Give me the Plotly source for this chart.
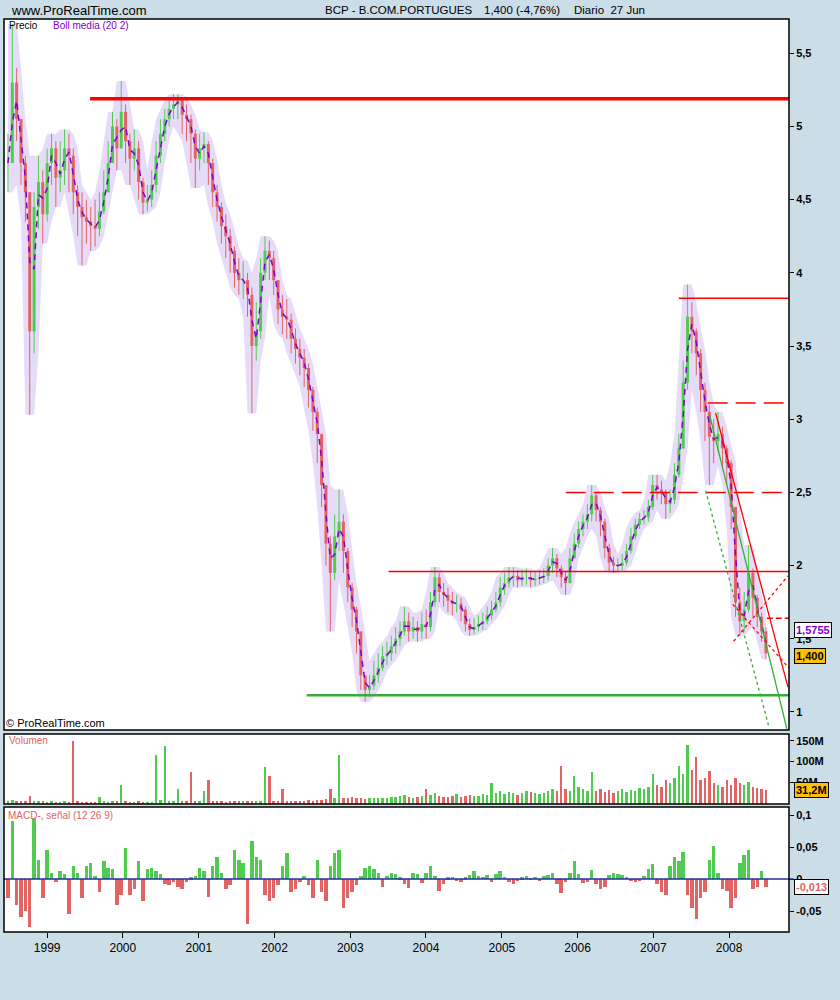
import numpy as np
import pandas as pd
import plotly.graph_objects as go

# ---------------- data (sampled every 3 weeks) ----------------
dates = pd.date_range("1998-06-26", "2008-06-27", freq="21D")

close = [4.75, 5.30, 5.05, 4.75, 4.55, 3.60, 4.45, 4.62, 4.40, 4.75,
         4.85, 4.65, 4.70, 4.85, 4.80, 4.55, 4.45, 4.38, 4.35, 4.32,
         4.30, 4.42, 4.55, 4.75, 5.00, 4.85, 5.10, 4.90, 4.78, 4.85,
         4.62, 4.48, 4.50, 4.60, 4.80, 4.95, 5.05, 5.12, 5.15, 5.18,
         5.08, 5.05, 4.95, 4.78, 4.85, 4.88, 4.75, 4.55, 4.45, 4.32,
         4.25, 4.15, 4.00, 3.95, 3.95, 3.85, 3.50, 3.60, 4.00, 4.15,
         4.10, 3.95, 3.75, 3.70, 3.68, 3.55, 3.48, 3.42, 3.35, 3.20,
         3.05, 2.90, 2.55, 2.15, 1.95, 2.20, 2.30, 2.10, 1.85, 1.70,
         1.55, 1.25, 1.15, 1.18, 1.25, 1.30, 1.38, 1.40, 1.45, 1.50,
         1.55, 1.62, 1.55, 1.58, 1.55, 1.60, 1.58, 1.75, 1.92, 1.82,
         1.80, 1.76, 1.74, 1.74, 1.70, 1.60, 1.56, 1.58, 1.60, 1.62,
         1.66, 1.70, 1.75, 1.85, 1.88, 1.92, 1.93, 1.90, 1.92, 1.92,
         1.90, 1.91, 1.92, 1.93, 2.00, 2.05, 1.98, 1.92, 1.88, 2.05,
         2.15, 2.25, 2.30, 2.35, 2.48, 2.38, 2.30, 2.12, 2.02, 2.00,
         2.00, 2.02, 2.10, 2.20, 2.28, 2.32, 2.33, 2.40, 2.55, 2.52,
         2.50, 2.42, 2.45, 2.62, 2.80, 3.25, 3.70, 3.60, 3.45, 3.20,
         3.05, 2.88, 2.85, 2.90, 2.80, 2.70, 2.40, 1.75, 1.62, 1.70,
         1.95, 1.78, 1.65, 1.55, 1.40]

high = [4.95, 5.70, 5.40, 5.05, 4.80, 4.55, 4.55, 4.80, 4.70, 4.85,
        4.95, 4.90, 4.90, 4.98, 4.95, 4.85, 4.60, 4.55, 4.50, 4.45,
        4.50, 4.55, 4.70, 4.90, 5.10, 5.05, 5.31, 5.15, 4.95, 4.98,
        4.90, 4.65, 4.60, 4.70, 4.90, 5.05, 5.12, 5.18, 5.22, 5.22,
        5.20, 5.15, 5.08, 4.98, 4.95, 4.96, 4.90, 4.78, 4.60, 4.48,
        4.40, 4.30, 4.18, 4.10, 4.08, 4.00, 3.90, 3.80, 4.10, 4.25,
        4.22, 4.15, 3.95, 3.85, 3.82, 3.72, 3.62, 3.55, 3.48, 3.38,
        3.22, 3.08, 2.90, 2.55, 2.20, 2.35, 2.52, 2.35, 2.12, 1.88,
        1.72, 1.55, 1.25, 1.25, 1.35, 1.40, 1.45, 1.48, 1.52, 1.58,
        1.62, 1.72, 1.68, 1.65, 1.62, 1.68, 1.70, 1.82, 1.99, 1.95,
        1.88, 1.85, 1.82, 1.80, 1.78, 1.72, 1.64, 1.64, 1.66, 1.68,
        1.72, 1.76, 1.82, 1.92, 1.95, 1.99, 1.99, 1.97, 1.97, 1.98,
        1.96, 1.96, 1.97, 1.98, 2.05, 2.12, 2.08, 2.00, 1.96, 2.12,
        2.22, 2.30, 2.35, 2.42, 2.55, 2.50, 2.40, 2.32, 2.15, 2.06,
        2.05, 2.08, 2.15, 2.26, 2.32, 2.36, 2.38, 2.45, 2.62, 2.62,
        2.58, 2.52, 2.52, 2.70, 2.90, 3.40, 3.92, 3.80, 3.62, 3.48,
        3.25, 3.10, 3.00, 3.05, 2.95, 2.82, 2.72, 2.40, 1.85, 1.82,
        2.14, 1.98, 1.80, 1.68, 1.58]

low = [4.55, 4.75, 4.90, 4.60, 4.35, 3.03, 3.45, 4.30, 4.20, 4.35,
       4.60, 4.45, 4.55, 4.60, 4.55, 4.40, 4.25, 4.05, 4.20, 4.15,
       4.18, 4.25, 4.40, 4.55, 4.75, 4.70, 4.85, 4.75, 4.60, 4.70,
       4.50, 4.40, 4.42, 4.45, 4.55, 4.75, 4.90, 5.00, 5.05, 5.05,
       4.95, 4.90, 4.75, 4.58, 4.70, 4.75, 4.60, 4.45, 4.35, 4.20,
       4.10, 4.00, 3.90, 3.85, 3.82, 3.70, 3.04, 3.40, 3.55, 3.95,
       3.95, 3.85, 3.65, 3.58, 3.55, 3.45, 3.38, 3.30, 3.22, 3.08,
       2.92, 2.70, 2.40, 2.00, 1.55, 1.90, 2.10, 1.95, 1.75, 1.58,
       1.40, 1.15, 1.07, 1.10, 1.15, 1.20, 1.28, 1.32, 1.35, 1.40,
       1.45, 1.52, 1.48, 1.50, 1.48, 1.50, 1.50, 1.55, 1.72, 1.75,
       1.72, 1.68, 1.66, 1.68, 1.62, 1.55, 1.52, 1.53, 1.55, 1.56,
       1.60, 1.63, 1.68, 1.72, 1.80, 1.85, 1.86, 1.85, 1.86, 1.87,
       1.85, 1.86, 1.87, 1.88, 1.90, 1.95, 1.92, 1.85, 1.80, 1.88,
       2.05, 2.12, 2.20, 2.25, 2.30, 2.30, 2.20, 2.05, 1.96, 1.95,
       1.96, 1.97, 2.00, 2.08, 2.18, 2.25, 2.28, 2.30, 2.38, 2.45,
       2.42, 2.32, 2.36, 2.42, 2.60, 2.80, 3.20, 3.45, 3.30, 3.05,
       2.85, 2.55, 2.70, 2.78, 2.68, 2.55, 2.25, 1.65, 1.52, 1.55,
       1.68, 1.65, 1.58, 1.48, 1.36]

volume_m = [6, 8, 7, 6, 5, 18, 6, 5, 5, 4,
            5, 4, 4, 5, 4, 150, 5, 4, 4, 3,
            4, 15, 5, 4, 5, 6, 45, 5, 4, 4,
            5, 4, 3, 4, 117, 8, 138, 6, 5, 35,
            6, 5, 75, 5, 6, 30, 56, 5, 6, 5,
            4, 5, 6, 5, 6, 5, 7, 6, 6, 88,
            65, 7, 6, 35, 6, 7, 6, 6, 7, 8,
            7, 8, 9, 10, 35, 12, 117, 12, 14, 16,
            14, 12, 10, 12, 14, 13, 12, 14, 15, 16,
            18, 20, 15, 14, 16, 18, 35, 20, 25, 18,
            16, 15, 18, 22, 16, 18, 20, 17, 19, 22,
            20, 50, 25, 30, 22, 28, 24, 20, 26, 30,
            28, 25, 22, 24, 30, 35, 30, 90, 35, 30,
            65, 40, 35, 30, 75, 30, 35, 28, 32, 26,
            30, 35, 28, 33, 30, 38, 35, 40, 70, 45,
            40, 55, 50, 60, 90, 70, 140, 80, 110, 55,
            60, 78, 50, 45, 40, 55, 45, 60, 50, 45,
            52, 40, 38, 35, 31.2]

macd_hist = [-0.03, 0.09, -0.04, -0.06, -0.05, -0.075, 0.095, 0.03, -0.03, 0.045,
             0.01, -0.005, 0.012, 0.008, -0.055, 0.02, 0.01, -0.03, 0.02, 0.025,
             0.005, -0.02, 0.028, 0.018, 0.015, -0.04, -0.025, 0.048, -0.025, -0.015,
             0.028, -0.035, 0.015, 0.018, 0.012, 0.008, -0.008, -0.01, -0.005, -0.012,
             -0.015, -0.005, 0.003, 0.005, 0.018, 0.012, -0.028, 0.02, 0.035, 0.01,
             -0.015, -0.01, 0.045, 0.03, 0.025, -0.07, 0.06, 0.035, 0.03, -0.025,
             -0.035, -0.03, -0.01, 0.02, 0.04, -0.02, -0.015, -0.005, 0.005, -0.01,
             -0.03, 0.03, -0.02, -0.035, 0.02, 0.04, 0.045, -0.045, -0.03, -0.02,
             -0.01, 0.005, 0.018, 0.02, 0.015, 0.01, -0.012, 0.005, 0.01, 0.008,
             0.003, -0.008, -0.014, 0.01, 0.008, -0.006, 0.01, 0.02, 0.005, -0.018,
             -0.008, 0.003, 0.004, -0.003, -0.005, 0.003, 0.006, 0.013, 0.005, 0.004,
             0.006, -0.004, 0.008, 0.012, 0.004, -0.005, -0.008, -0.003, 0.003, 0.005,
             0.002, 0.004, -0.003, 0.005, 0.006, 0.01, -0.008, -0.022, -0.005, 0.01,
             0.028, 0.008, -0.006, -0.005, 0.014, -0.008, -0.015, -0.012, 0.006, 0.01,
             0.008, 0.006, 0.004, -0.003, -0.004, -0.002, 0.005, 0.015, 0.024, -0.008,
             -0.02, -0.025, 0.02, 0.035, 0.028, 0.042, -0.025, -0.045, -0.062, -0.03,
             -0.02, 0.03, 0.052, 0.01, -0.015, -0.018, -0.045, -0.03, 0.025, 0.038,
             0.046, -0.015, -0.012, 0.012, -0.013]

# horizontal support / resistance levels: (start date, value, colour, width)
levels_solid = [("1999-07-27", 5.19, "#ff0000", 3.5),
                ("2007-05-04", 3.826, "#ff0000", 1.5),
                ("2003-07-05", 1.96, "#ff0000", 1.5),
                ("2002-06-05", 1.115, "#33b033", 2.5)]
levels_dashed = [("2007-09-20", "2008-09-20", 3.111, "20px,8px"),
                 ("2005-11-05", "2008-09-13", 2.50, "20px,8px"),
                 ("2008-07-01", "2008-10-16", 1.64, "6px,3px")]
trend_lines = [("2007-10-28", 3.043, "2008-10-11", 1.170, "#ff0000", "solid"),
               ("2007-09-29", 3.030, "2008-10-06", 0.884, "#33b033", "solid"),
               ("2007-09-10", 2.512, "2008-07-10", 0.904, "#33b033", "dot"),
               ("2008-01-23", 1.483, "2008-10-11", 1.930, "#ff0000", "dot"),
               ("2008-01-19", 1.735, "2008-10-16", 1.300, "#ff0000", "dot")]

# ---------------- derived ----------------
c = np.array(close, dtype=float)
o = np.r_[c[0], c[:-1]]
hi = np.maximum.reduce([np.array(high), o, c])
lo = np.minimum.reduce([np.array(low), o, c])
up = c >= o

GREEN = "#4fcc4f"
RED = "#e06464"
PURPLE = "#8000cc"
BG = "#cbdde6"

band_up = pd.Series(hi).rolling(3, center=True, min_periods=1).max()
band_lo = pd.Series(lo).rolling(3, center=True, min_periods=1).min()
mid = pd.Series(c).rolling(2, min_periods=1).mean()

step_ms = 21 * 86400000

def segs(mask, y0, y1):
    xs, ys = [], []
    for d, m, a, b in zip(dates, mask, y0, y1):
        if m:
            xs += [d, d, None]
            ys += [a, b, None]
    return xs, ys

fig = go.Figure()
fig.add_trace(go.Scatter(x=dates, y=band_up, mode="lines", line=dict(width=0),
                         hoverinfo="skip", showlegend=False, xaxis="x", yaxis="y"))
fig.add_trace(go.Scatter(x=dates, y=band_lo, mode="lines", line=dict(width=0),
                         fill="tonexty", fillcolor="#e6dcfa", hoverinfo="skip",
                         showlegend=False, xaxis="x", yaxis="y"))
bmin = np.minimum(o, c)
bmax = np.maximum(o, c)
for mask, col in ((up, GREEN), (~up, RED)):
    wx, wy = segs(mask, lo, hi)
    fig.add_trace(go.Scatter(x=wx, y=wy, mode="lines", line=dict(color=col, width=1),
                             showlegend=False, hoverinfo="skip", xaxis="x", yaxis="y"))
    bx, by = segs(mask, bmin, bmax)
    fig.add_trace(go.Scatter(x=bx, y=by, mode="lines", line=dict(color=col, width=3),
                             showlegend=False, hoverinfo="skip", xaxis="x", yaxis="y"))
# Bollinger middle line, broken by the bars as in the original
fig.add_trace(go.Scatter(x=dates, y=mid, mode="lines",
                         line=dict(color=PURPLE, width=1.5, dash="6px,5px"),
                         showlegend=False, xaxis="x", yaxis="y"))

fig.add_trace(go.Bar(x=dates, y=volume_m, width=step_ms * 0.55,
                     marker=dict(color=[GREEN if u else RED for u in up], line=dict(width=0)),
                     showlegend=False, xaxis="x", yaxis="y2"))
fig.add_trace(go.Bar(x=dates, y=macd_hist, width=step_ms * 0.8,
                     marker=dict(color=[GREEN if v >= 0 else RED for v in macd_hist], line=dict(width=0)),
                     showlegend=False, xaxis="x", yaxis="y3"))

H = 1000.0
def py(px):
    return 1 - px / H

dom_price = [py(730), py(19)]
dom_vol = [py(804), py(734)]
dom_macd = [py(932), py(807)]

tickfont = dict(family="Liberation Sans, Arial", size=11, color="black", weight="bold")

shapes = []
for d0, v, col, w in levels_solid:
    shapes.append(dict(type="line", xref="x", yref="y", x0=d0, x1="2008-10-16", y0=v, y1=v,
                       line=dict(color=col, width=w)))
for d0, d1, v, dash in levels_dashed:
    shapes.append(dict(type="line", xref="x", yref="y", x0=d0, x1=d1, y0=v, y1=v,
                       line=dict(color="#ff0000", width=1.5, dash=dash)))
for d0, v0, d1, v1, col, dash in trend_lines:
    shapes.append(dict(type="line", xref="x", yref="y", x0=d0, x1=d1, y0=v0, y1=v1,
                       line=dict(color=col, width=1.3, dash=dash)))
shapes.append(dict(type="line", xref="paper", yref="y3", x0=0, x1=1.006, y0=0, y1=0,
                   line=dict(color="#2030a0", width=1.5)))
for d in (dom_price, dom_vol, dom_macd):
    shapes.append(dict(type="rect", xref="paper", yref="paper", x0=0, x1=1, y0=d[0], y1=d[1],
                       line=dict(color="black", width=1.5), fillcolor="rgba(0,0,0,0)"))

FONT = "Liberation Sans, Arial"
ann = []
def text(xpx, ypx, s, size=10, color="black", anchor="left"):
    ann.append(dict(xref="paper", yref="paper", x=(xpx - 4) / 785.0, y=py(ypx), text=s,
                    showarrow=False, xanchor=anchor, yanchor="middle",
                    font=dict(family=FONT, size=size, color=color)))

text(9, 10, "www.ProRealTime.com", size=13)
text(323, 10, "BCP - B.COM.PORTUGUES", size=11.5)
text(482, 10, "1,400 (-4,76%)", size=11.5)
text(572, 10, "Diario  27 Jun", size=11.5)
text(7, 25, "Precio", size=10)
text(51, 25, "Boll media (20 2)", size=10, color=PURPLE)
text(4, 723, "© ProRealTime.com", size=11)
text(7, 740, "Volumen", size=10, color=RED)
text(6, 815, "MACD-, señal (12 26 9)", size=10, color=RED)

def box(ypx, s, bg, fg):
    ann.append(dict(xref="paper", yref="paper", x=(794 - 4) / 785.0, y=py(ypx), text="<b>%s</b>" % s,
                    showarrow=False, xanchor="left", yanchor="middle",
                    font=dict(family=FONT, size=11, color=fg),
                    bgcolor=bg, bordercolor="black", borderwidth=1, borderpad=1))

box(630, "1,5755", "white", PURPLE)
box(655.5, "1,400", "#ffc000", "black")
box(790, "31,2M", "#ffc000", "black")
box(887, "-0,013", "white", RED)

fig.update_layout(
    width=840, height=1000,
    margin=dict(l=4, r=51, t=0, b=0),
    paper_bgcolor=BG, plot_bgcolor="white",
    separators=",.",
    showlegend=False,
    bargap=0,
    xaxis=dict(domain=[0, 1], anchor="y3", type="date",
               range=["1998-06-07", "2008-10-16"],
               tick0="1999-01-01", dtick="M12", tickformat="%Y",
               ticks="outside", ticklen=5, tickcolor="black",
               tickfont=dict(family=FONT, size=12, color="black"),
               showgrid=False, zeroline=False, showline=False),
    yaxis=dict(domain=dom_price, side="right", range=[0.877, 5.734], anchor="x",
               tick0=0, dtick=0.5, ticks="outside", ticklen=4, tickcolor="black",
               tickfont=tickfont, showgrid=False, zeroline=False, showline=False),
    yaxis2=dict(domain=dom_vol, side="right", range=[-1.2, 166], anchor="x",
                tickvals=[50, 100, 150], ticktext=["50M", "100M", "150M"],
                ticks="outside", ticklen=4, tickcolor="black",
                tickfont=tickfont, showgrid=False, zeroline=False, showline=False),
    yaxis3=dict(domain=dom_macd, side="right", range=[-0.0827, 0.1126], anchor="x",
                tickvals=[-0.05, 0, 0.05, 0.1], ticktext=["-0,05", "0", "0,05", "0,1"],
                ticks="outside", ticklen=4, tickcolor="black",
                tickfont=tickfont, showgrid=False, zeroline=False, showline=False),
    shapes=shapes,
    annotations=ann,
)

fig.write_html("out.html", config={"displayModeBar": False},
               post_script="document.body.style.margin='0';document.body.style.padding='0';")
